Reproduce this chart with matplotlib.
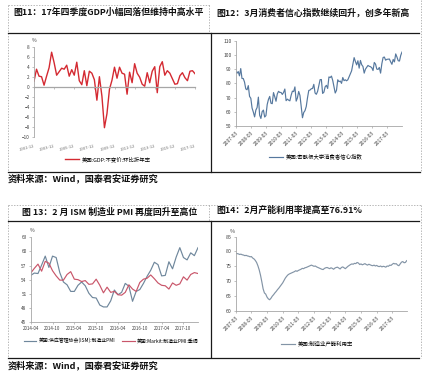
import matplotlib
matplotlib.use('Agg')
import matplotlib.pyplot as plt

plt.rcParams['font.family'] = ['Noto Sans CJK SC', 'DejaVu Sans']

W, H = 429, 384

# ---- fig 11: US GDP q/q annualised, 2001Q4 - 2017Q4
gdp_ticks = ['2001-12', '2003-12', '2005-12', '2007-12', '2009-12',
             '2011-12', '2013-12', '2015-12', '2017-12']
gdp = [1.1,
       3.5, 2.1, 2.0, 0.3,
       2.1, 3.8, 6.9, 4.8,
       2.3, 3.0, 3.7, 3.5,
       4.3, 2.1, 3.4, 2.3,
       4.9, 1.2, 0.4, 3.2,
       0.2, 3.1, 2.7, 1.4,
       -2.7, 2.0, -1.9, -8.2,
       -5.4, -0.5, 1.3, 3.9,
       1.7, 3.9, 2.7, 2.5,
       -1.5, 2.9, 0.8, 4.6,
       2.7, 1.9, 0.5, 0.1,
       2.8, 0.8, 3.1, 4.0,
       -1.2, 4.0, 5.0, 2.3,
       3.2, 2.7, 1.6, 0.5,
       0.6, 2.2, 2.8, 1.8,
       1.2, 3.1, 3.2, 2.6]

# ---- fig 12: Michigan consumer sentiment, 2007-03 - 2018-03
sent_ticks = ['2007-03', '2008-03', '2009-03', '2010-03', '2011-03', '2012-03',
              '2013-03', '2014-03', '2015-03', '2016-03', '2017-03']
sentiment = [88.4, 87.1, 88.3, 85.3, 90.4, 83.4, 83.4, 80.9, 76.1, 75.5,
             78.4, 70.8, 69.5, 62.6, 59.8, 56.4, 61.2, 63.0, 70.3, 57.6, 55.3, 60.1,
             61.2, 56.3, 57.3, 65.1, 68.7, 70.8, 66.0, 65.7, 73.5, 70.6, 67.4, 72.5,
             74.4, 73.6, 73.6, 72.2, 73.6, 76.0, 67.8, 68.9, 68.2, 67.7, 71.6, 74.5,
             74.2, 77.5, 67.5, 69.8, 74.3, 71.5, 63.7, 55.8, 59.5, 60.8, 63.7, 69.9,
             75.0, 75.3, 76.2, 76.4, 79.3, 73.2, 72.3, 74.3, 78.3, 82.6, 82.7, 72.9,
             73.8, 77.6, 78.6, 76.4, 84.5, 84.1, 85.1, 82.1, 77.5, 73.2, 75.1, 82.5,
             81.2, 81.6, 80.0, 84.1, 81.9, 82.5, 81.8, 82.5, 84.6, 86.9, 88.8, 93.6,
             98.1, 95.4, 93.0, 95.9, 90.7, 96.1, 93.1, 91.9, 87.2, 90.0, 91.3, 92.6,
             92.0, 91.7, 91.0, 89.0, 94.7, 93.5, 90.0, 89.8, 91.2, 87.2, 93.8, 98.2,
             98.5, 96.3, 96.9, 97.0, 97.1, 95.1, 93.4, 96.8, 95.1, 100.7, 98.5, 95.9,
             95.7, 99.7, 102.0]

# ---- fig 13: ISM and Markit manufacturing PMI, 2014-04 - 2018-02
pmi_ticks = ['2014-04', '2014-10', '2015-04', '2015-10', '2016-04',
             '2016-10', '2017-04', '2017-10']
ism = [54.9, 55.4, 55.3, 57.1, 59.0, 56.6, 59.0, 58.7, 55.5,
       53.5, 52.9, 51.5, 51.5, 52.8, 53.5, 52.7, 51.1, 50.2, 50.1, 48.6, 48.2,
       48.2, 49.5, 51.8, 50.8, 51.3, 53.2, 52.6, 49.4, 51.5, 51.9, 53.2, 54.7,
       56.0, 57.7, 57.2, 54.8, 54.9, 57.8, 56.3, 58.8, 60.8, 58.7, 58.2, 59.7,
       59.1, 60.8]
markit = [55.4, 56.4, 57.3, 55.8, 57.9, 57.5, 55.9, 54.8, 53.9,
          53.9, 55.1, 55.7, 54.1, 54.0, 53.6, 53.8, 53.0, 53.1, 54.1, 52.8, 51.2,
          52.4, 51.3, 51.5, 50.8, 50.7, 51.3, 52.9, 52.0, 51.5, 53.4, 54.1, 54.3,
          55.0, 54.2, 53.3, 52.8, 52.7, 52.0, 53.3, 52.8, 53.1, 54.6, 53.9, 55.1,
          55.5, 55.3]

# ---- fig 14: manufacturing capacity utilisation, 2007-03 - 2018-02
cap_ticks = ['2007-03', '2008-03', '2009-03', '2010-03', '2011-03', '2012-03',
             '2013-03', '2014-03', '2015-03', '2016-03', '2017-03']
capacity = [79.4, 79.3, 79.2, 79.0, 79.1, 78.9, 78.8, 78.6, 78.7, 78.5,
            78.4, 78.2, 78.3, 77.8, 77.5, 77.0, 76.3, 75.2, 73.8, 72.0, 69.8, 67.4,
            66.0, 65.6, 64.6, 64.0, 63.7, 64.2, 64.9, 65.4, 66.0, 66.5, 67.1, 67.6,
            68.2, 68.8, 69.4, 70.2, 71.0, 71.6, 72.1, 72.4, 72.6, 72.8, 73.0, 73.2,
            73.5, 73.3, 73.6, 73.8, 74.0, 74.3, 74.2, 74.5, 74.6, 74.8, 75.0, 75.2,
            75.4, 75.2, 75.0, 75.1, 74.8, 74.6, 74.4, 74.2, 74.0, 73.9, 74.3, 74.5,
            74.6, 74.4, 74.2, 74.5, 74.3, 74.0, 74.4, 74.6, 74.7, 74.4, 74.1, 74.6,
            74.8, 74.5, 74.2, 74.6, 75.0, 75.3, 75.6, 75.8, 75.7, 76.0, 75.9, 76.3,
            76.1, 75.6, 75.8, 75.5, 75.7, 75.9, 75.6, 75.4, 75.7, 75.5, 75.3, 75.2,
            75.4, 75.1, 75.3, 75.0, 74.9, 75.1, 74.8, 75.0, 74.9, 74.7, 75.1, 75.0,
            75.4, 75.3, 75.7, 76.0, 75.8, 75.9, 75.4, 75.2, 75.8, 76.4, 76.6, 76.2,
            76.3, 76.9]

AXC = '#a6a6a6'
TXT = '#404040'


def px_axes(l, t, r, b):
    return fig.add_axes([l / W, 1 - b / H, (r - l) / W, (b - t) / H])


def style(ax, size=3.6):
    for s in ['top', 'right']:
        ax.spines[s].set_visible(False)
    for s in ['left', 'bottom']:
        ax.spines[s].set_color(AXC)
        ax.spines[s].set_linewidth(0.6)
    ax.tick_params(colors=AXC, labelcolor=TXT, labelsize=size,
                   length=1.5, width=0.5, pad=1.5)


def rot_labels(ax, ticks, labels, rot, size):
    ax.set_xticks(ticks)
    ax.set_xticklabels(labels, rotation=rot, ha='right',
                       rotation_mode='anchor', fontsize=size)


fig = plt.figure(figsize=(W / 100, H / 100), dpi=100)
deco = fig.add_axes([0, 0, 1, 1])
deco.set_xlim(0, W)
deco.set_ylim(H, 0)
deco.axis('off')

solid = dict(color='#1a1a1a', lw=0.9)
dash = dict(color='#9a9a9a', lw=0.5, ls=(0, (2, 2)))

# panel frames
deco.plot([8, 210], [5, 5], **dash)
deco.plot([209, 209], [5, 33], **dash)
deco.plot([8, 8], [5, 172], **dash)
deco.plot([8, 419], [33, 33], **solid)
deco.plot([210.7, 210.7], [33, 172], **solid)
deco.plot([8, 420], [172, 172], **solid)
deco.plot([420.7, 420.7], [0, 172], **dash)

deco.plot([8, 421], [205, 205], **dash)
deco.plot([209, 209], [205, 221], **dash)
deco.plot([8, 8], [205, 357], **dash)
deco.plot([421, 421], [205, 358], **dash)
deco.plot([8, 419], [220.7, 220.7], **solid)
deco.plot([210.7, 210.7], [221, 357], **solid)
deco.plot([8, 419], [357.5, 357.5], **solid)

tfont = dict(fontsize=6.4, fontweight='bold', color='#111', va='center')
deco.text(13, 12.5, '图11：17年四季度GDP小幅回落但维持中高水平', **tfont)
deco.text(216, 12.7, '图12：3月消费者信心指数继续回升，创多年新高', **tfont)
deco.text(22, 211.7, '图 13：2 月 ISM 制造业 PMI 再度回升至高位', **tfont)
deco.text(216, 210.5, '图14：2月产能利用率提高至76.91%', **tfont)
src = dict(fontsize=6.6, fontweight='bold', color='#111', va='center')
deco.text(8, 178.5, '资料来源：Wind，国泰君安证券研究', **src)
deco.text(8, 365, '资料来源：Wind，国泰君安证券研究', **src)

# ---- fig 11
ax1 = px_axes(34, 46.7, 195, 136.7)
style(ax1, 3.4)
ax1.plot(range(len(gdp)), gdp, color='#d42a32', lw=1.0, label='美国:GDP:不变价:环比折年率')
ax1.set_xlim(0, len(gdp) - 1)
ax1.set_ylim(-10, 8)
ax1.set_yticks(range(-10, 9, 2))
ax1.spines['bottom'].set_position(('data', 0))
ax1.spines['bottom'].set_linewidth(0.9)
g_ticks = list(range(0, len(gdp), 8))
ax1.set_xticks(g_ticks)
ax1.tick_params(axis='x', labelbottom=False)
sec = ax1.secondary_xaxis(0)
sec.spines['bottom'].set_visible(False)
rot_labels(sec, g_ticks, gdp_ticks, 15, 3.0)
sec.tick_params(length=0, pad=5, labelcolor='#707070')
ax1.text(0, 1.05, '%', transform=ax1.transAxes, fontsize=3.6, color=TXT, ha='center')
ax1.legend(loc='center', bbox_to_anchor=(108 / W, 1 - 159.3 / H), bbox_transform=fig.transFigure,
           frameon=False, fontsize=3.9, handlelength=2.6, handletextpad=0.5)

# ---- fig 12
ax2 = px_axes(235.7, 40.7, 402, 126)
style(ax2, 3.6)
ax2.plot(range(len(sentiment)), sentiment, color='#56789e', lw=0.85,
         label='美国:密歇根大学消费者信心指数')
ax2.set_xlim(0, len(sentiment) - 1)
ax2.set_ylim(50, 110)
ax2.set_yticks(range(50, 111, 10))
rot_labels(ax2, range(0, 121, 12), sent_ticks, 45, 3.6)
ax2.legend(loc='center', bbox_to_anchor=(315.5 / W, 1 - 156.7 / H), bbox_transform=fig.transFigure,
           frameon=False, fontsize=3.9, handlelength=2.6, handletextpad=0.5)

# ---- fig 13
ax3 = px_axes(30.7, 237.3, 198, 322)
style(ax3, 3.4)
ax3.plot(range(len(ism)), ism, color='#6f879c', lw=0.85,
         label='美国:供应管理协会(ISM):制造业PMI')
ax3.plot(range(len(markit)), markit, color='#c9566a', lw=0.85,
         label='美国:Markit:制造业PMI:季调')
ax3.set_xlim(0, len(ism) - 1)
ax3.set_ylim(45, 63)
ax3.set_yticks(range(45, 64, 3))
ax3.set_xticks(range(0, 43, 6))
ax3.set_xticklabels(pmi_ticks, fontsize=3.2)
ax3.text(0.01, 1.06, '%', transform=ax3.transAxes, fontsize=3.6, color=TXT, ha='center')
ax3.legend(loc='center', bbox_to_anchor=(111 / W, 1 - 340.7 / H), bbox_transform=fig.transFigure,
           frameon=False, fontsize=3.5, ncol=2, handlelength=2.6, handletextpad=0.4,
           columnspacing=1.4)

# ---- fig 14
ax4 = px_axes(235.7, 236.7, 406.7, 310.7)
style(ax4, 3.8)
ax4.plot(range(len(capacity)), capacity, color='#8394a6', lw=0.85, label='美国:制造业产能利用率')
ax4.set_xlim(0, len(capacity) - 1)
ax4.set_ylim(60, 85)
ax4.set_yticks(range(60, 86, 5))
rot_labels(ax4, range(0, 121, 12), cap_ticks, 45, 3.6)
ax4.text(-0.02, 1.05, '%', transform=ax4.transAxes, fontsize=4, color=TXT, ha='center')
ax4.legend(loc='center', bbox_to_anchor=(317 / W, 1 - 344 / H), bbox_transform=fig.transFigure,
           frameon=False, fontsize=3.9, handlelength=2.6, handletextpad=0.5)

fig.savefig('out.png', dpi=100, facecolor='white')
